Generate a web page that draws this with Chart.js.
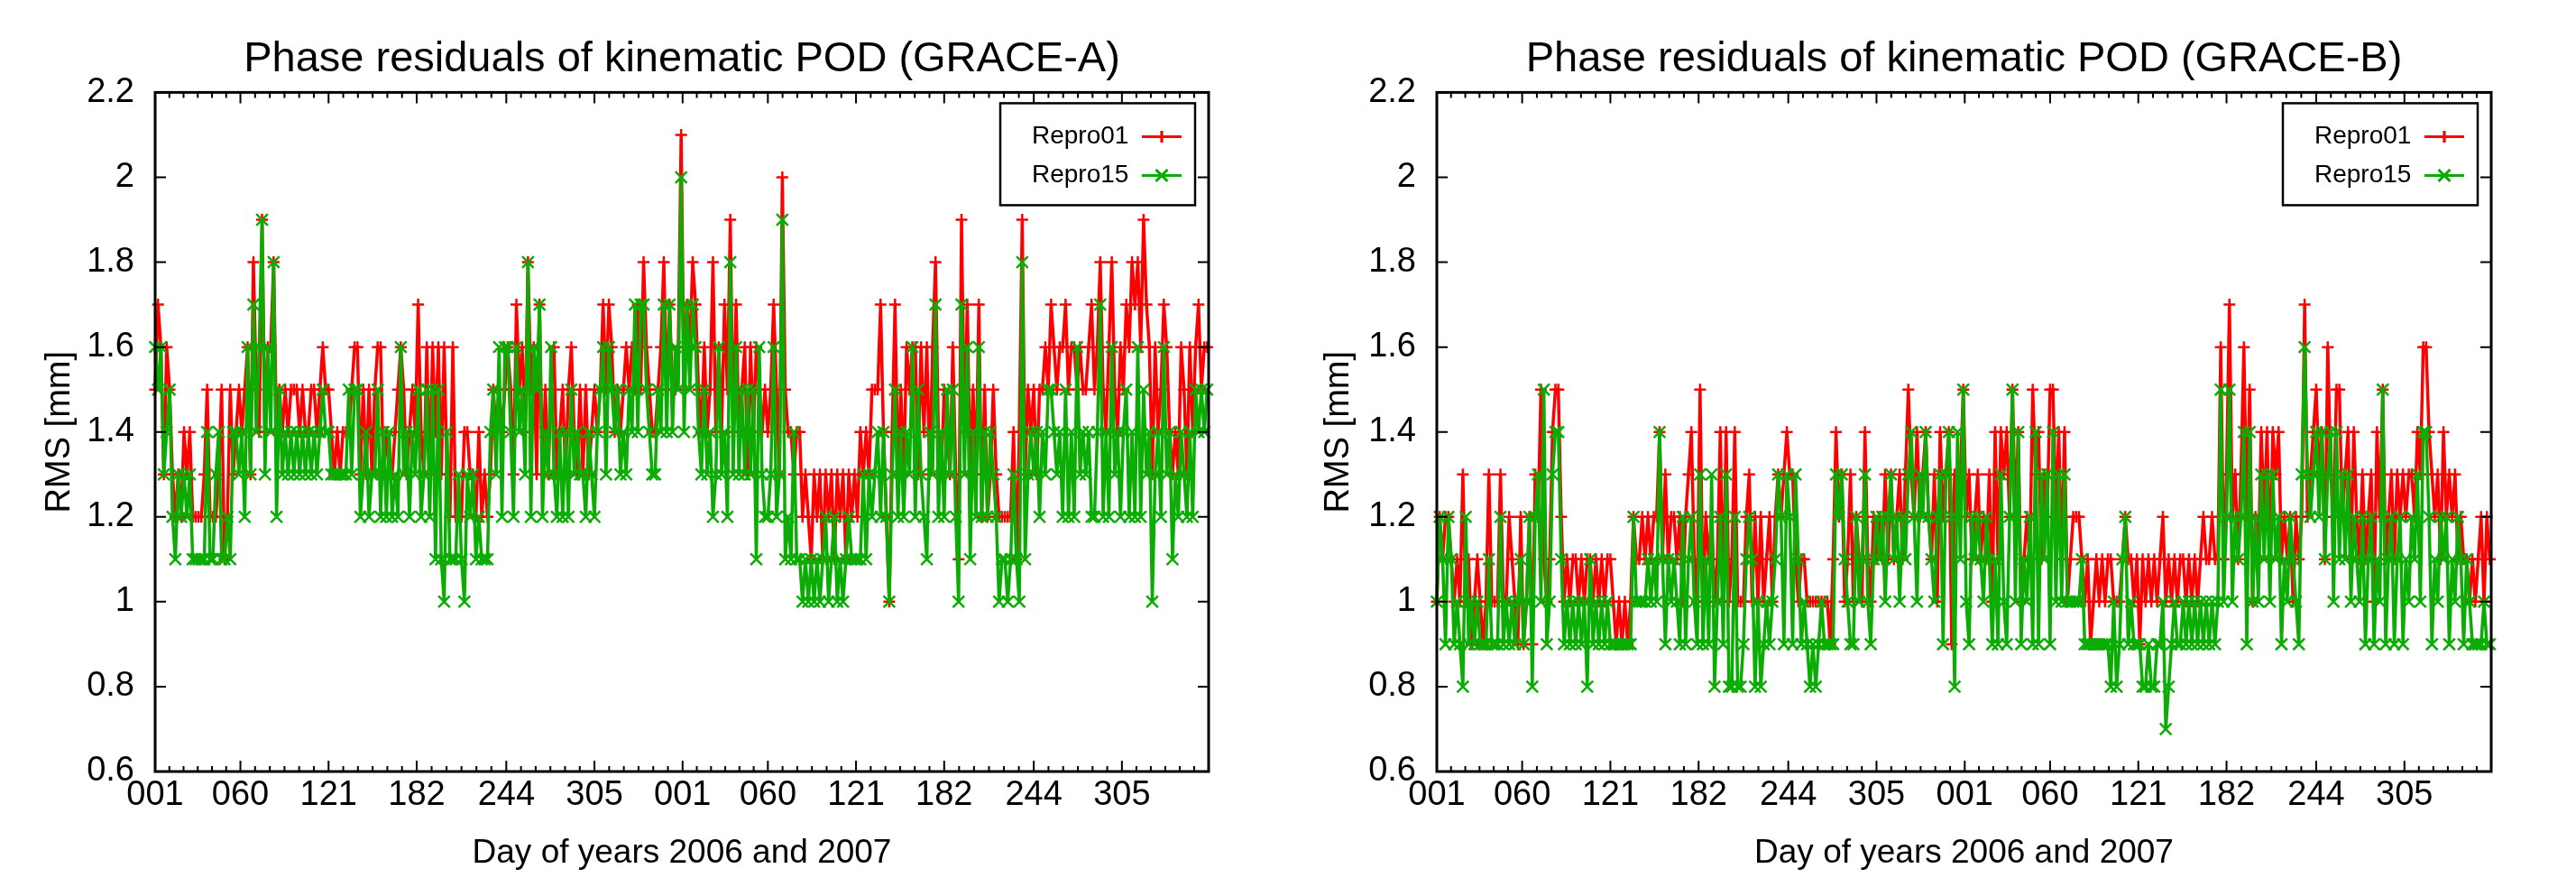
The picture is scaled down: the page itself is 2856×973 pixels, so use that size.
<!DOCTYPE html>
<html>
<head>
<meta charset="utf-8">
<title>Phase residuals of kinematic POD</title>
<script src="https://cdn.jsdelivr.net/npm/chart.js@4"></script>
<style>
  body { margin: 0; background: #fff; }
  canvas { position: absolute; top: 0; }
  #panelA { left: 0; }
  #panelB { left: 1428px; }
</style>
</head>
<body>
<canvas id="panelA" width="1428" height="973"></canvas>
<canvas id="panelB" width="1428" height="973"></canvas>
<script>
// values, one sample every second day (days 1, 3, 5 ... 729)
const firstDay = 1;
const dayStep = 2;
const lastDay = 730;

const dayTicks = [1, 60, 121, 182, 244, 305, 366, 425, 486, 547, 609, 670];
const dayLabels = ['001', '060', '121', '182', '244', '305', '001', '060', '121', '182', '244', '305'];
const seriesNames = ['Repro01', 'Repro15'];

const repro01A = [
  1.5,1.7,1.6,1.3,1.6,1.5,1.3,1.2,1.3,1.2,
  1.4,1.3,1.4,1.2,1.2,1.2,1.2,1.3,1.5,1.2,
  1.2,1.2,1.3,1.5,1.1,1.2,1.5,1.3,1.4,1.5,
  1.4,1.5,1.6,1.3,1.8,1.5,1.4,1.9,1.4,1.6,
  1.6,1.8,1.4,1.5,1.4,1.5,1.4,1.5,1.5,1.5,
  1.4,1.5,1.4,1.4,1.5,1.5,1.4,1.5,1.6,1.5,
  1.5,1.4,1.3,1.4,1.3,1.4,1.4,1.4,1.5,1.6,
  1.6,1.3,1.5,1.3,1.5,1.3,1.5,1.6,1.6,1.3,
  1.4,1.3,1.3,1.4,1.5,1.6,1.5,1.3,1.4,1.5,
  1.4,1.7,1.4,1.3,1.6,1.3,1.6,1.4,1.6,1.3,
  1.6,1.3,1.2,1.6,1.2,1.2,1.2,1.4,1.4,1.3,
  1.3,1.2,1.4,1.2,1.3,1.2,1.3,1.5,1.4,1.5,
  1.4,1.5,1.6,1.5,1.3,1.7,1.5,1.6,1.4,1.8,
  1.5,1.6,1.3,1.7,1.3,1.5,1.3,1.5,1.6,1.3,
  1.4,1.5,1.3,1.5,1.6,1.4,1.3,1.5,1.3,1.5,
  1.3,1.4,1.5,1.4,1.5,1.7,1.5,1.7,1.6,1.4,
  1.5,1.4,1.5,1.6,1.5,1.6,1.5,1.7,1.5,1.8,
  1.6,1.5,1.4,1.4,1.5,1.6,1.8,1.5,1.7,1.5,
  1.5,1.6,2.1,1.5,1.7,1.6,1.8,1.7,1.5,1.4,
  1.6,1.4,1.5,1.8,1.4,1.6,1.4,1.7,1.5,1.9,
  1.4,1.7,1.4,1.5,1.6,1.3,1.6,1.4,1.6,1.5,
  1.4,1.5,1.4,1.5,1.7,1.5,1.3,2.0,1.5,1.4,
  1.4,1.3,1.4,1.4,1.2,1.3,1.2,1.1,1.3,1.2,
  1.3,1.1,1.3,1.2,1.3,1.1,1.3,1.2,1.3,1.1,
  1.3,1.2,1.3,1.2,1.4,1.3,1.4,1.3,1.5,1.5,
  1.5,1.7,1.4,1.2,1.0,1.4,1.7,1.3,1.5,1.3,
  1.6,1.5,1.6,1.6,1.3,1.6,1.4,1.6,1.3,1.6,
  1.8,1.4,1.3,1.5,1.4,1.3,1.6,1.3,1.1,1.9,
  1.4,1.7,1.3,1.5,1.3,1.7,1.2,1.5,1.2,1.3,
  1.5,1.3,1.2,1.2,1.2,1.2,1.2,1.4,1.1,1.4,
  1.9,1.3,1.5,1.4,1.5,1.3,1.5,1.5,1.6,1.5,
  1.7,1.6,1.5,1.6,1.6,1.7,1.5,1.6,1.6,1.5,
  1.6,1.5,1.5,1.6,1.7,1.5,1.6,1.8,1.5,1.4,
  1.6,1.8,1.5,1.4,1.6,1.5,1.7,1.6,1.8,1.7,
  1.8,1.6,1.9,1.7,1.6,1.3,1.6,1.4,1.5,1.7,
  1.6,1.4,1.3,1.4,1.3,1.6,1.5,1.3,1.6,1.4,
  1.6,1.7,1.5,1.6,1.6
];

const repro15A = [
  1.6,1.5,1.6,1.3,1.4,1.5,1.2,1.1,1.3,1.2,
  1.3,1.2,1.3,1.1,1.1,1.1,1.1,1.1,1.4,1.1,
  1.1,1.3,1.4,1.1,1.1,1.2,1.1,1.4,1.4,1.3,
  1.4,1.2,1.6,1.3,1.7,1.4,1.6,1.9,1.3,1.6,
  1.4,1.8,1.2,1.5,1.3,1.4,1.3,1.4,1.3,1.4,
  1.3,1.4,1.3,1.4,1.3,1.4,1.3,1.4,1.5,1.4,
  1.4,1.3,1.3,1.3,1.3,1.3,1.3,1.5,1.3,1.5,
  1.5,1.2,1.3,1.4,1.2,1.3,1.3,1.5,1.2,1.4,
  1.2,1.4,1.2,1.3,1.2,1.6,1.3,1.4,1.2,1.4,
  1.3,1.5,1.2,1.3,1.5,1.2,1.5,1.1,1.5,1.1,
  1.0,1.4,1.1,1.1,1.1,1.3,1.1,1.0,1.3,1.2,
  1.3,1.1,1.2,1.1,1.1,1.1,1.4,1.5,1.3,1.6,
  1.2,1.6,1.6,1.4,1.2,1.6,1.4,1.5,1.3,1.8,
  1.2,1.6,1.5,1.7,1.2,1.4,1.3,1.6,1.3,1.2,
  1.4,1.2,1.4,1.2,1.5,1.3,1.4,1.3,1.3,1.2,
  1.4,1.3,1.2,1.4,1.5,1.6,1.3,1.6,1.5,1.4,
  1.5,1.3,1.4,1.3,1.5,1.4,1.7,1.4,1.7,1.7,
  1.5,1.4,1.3,1.3,1.5,1.4,1.7,1.4,1.7,1.4,
  1.6,1.5,2.0,1.4,1.7,1.5,1.7,1.6,1.4,1.3,
  1.5,1.3,1.4,1.2,1.3,1.6,1.3,1.4,1.2,1.8,
  1.3,1.6,1.3,1.5,1.3,1.5,1.3,1.5,1.1,1.6,
  1.3,1.2,1.2,1.3,1.6,1.2,1.3,1.9,1.1,1.2,
  1.1,1.4,1.1,1.1,1.0,1.1,1.0,1.1,1.0,1.1,
  1.0,1.1,1.2,1.0,1.1,1.2,1.0,1.1,1.0,1.1,
  1.2,1.1,1.1,1.1,1.1,1.3,1.1,1.3,1.2,1.3,
  1.4,1.2,1.4,1.2,1.0,1.3,1.5,1.2,1.4,1.2,
  1.4,1.3,1.6,1.2,1.5,1.3,1.2,1.1,1.4,1.3,
  1.7,1.2,1.4,1.2,1.5,1.3,1.5,1.2,1.0,1.7,
  1.3,1.6,1.1,1.4,1.2,1.6,1.2,1.4,1.2,1.4,
  1.3,1.2,1.0,1.1,1.1,1.0,1.1,1.3,1.1,1.0,
  1.8,1.1,1.3,1.4,1.3,1.4,1.2,1.4,1.3,1.5,
  1.5,1.4,1.3,1.4,1.2,1.5,1.2,1.4,1.2,1.6,
  1.3,1.4,1.3,1.4,1.2,1.2,1.4,1.7,1.2,1.4,
  1.2,1.6,1.3,1.4,1.2,1.4,1.5,1.2,1.4,1.2,
  1.6,1.2,1.5,1.3,1.4,1.0,1.3,1.4,1.2,1.6,
  1.3,1.4,1.1,1.3,1.2,1.4,1.3,1.2,1.4,1.2,
  1.5,1.4,1.5,1.4,1.5
];

const repro01B = [
  1.0,1.2,1.1,1.2,1.2,1.1,1.0,1.1,1.0,1.3,
  1.0,1.1,0.9,1.0,1.1,1.0,0.9,1.0,1.3,1.0,
  1.0,1.0,1.3,1.0,1.0,1.2,1.1,1.0,0.9,1.2,
  0.9,1.0,1.2,0.9,1.3,1.2,1.5,1.1,1.0,1.1,
  1.4,1.5,1.5,1.2,1.0,1.1,1.0,1.1,1.1,1.0,
  1.1,1.0,1.1,1.1,1.0,1.1,1.0,1.1,1.0,1.1,
  1.1,1.0,0.9,1.0,0.9,1.0,0.9,1.0,1.2,1.1,
  1.1,1.2,1.1,1.2,1.1,1.2,1.2,1.4,1.1,1.3,
  1.1,1.2,1.2,1.1,1.2,1.0,1.2,1.3,1.4,1.1,
  1.0,1.5,1.0,1.2,1.1,1.2,1.0,1.1,1.4,1.0,
  1.4,1.0,1.1,1.4,1.0,1.0,1.0,1.2,1.3,1.0,
  1.2,1.0,1.2,1.0,1.1,1.2,1.0,1.2,1.3,1.2,
  1.3,1.4,1.3,1.3,1.1,1.0,1.1,1.1,1.0,1.0,
  1.0,1.0,1.0,1.0,1.0,1.0,0.9,1.1,1.4,1.2,
  1.3,1.0,1.1,1.3,1.0,1.2,1.1,1.0,1.4,1.1,
  1.0,1.2,1.1,1.2,1.1,1.3,1.1,1.3,1.1,1.2,
  1.3,1.1,1.3,1.5,1.3,1.2,1.4,1.2,1.3,1.4,
  1.2,1.1,1.3,1.0,1.4,1.2,1.3,1.4,0.9,1.3,
  1.2,1.3,1.5,1.2,1.3,1.1,1.2,1.3,1.1,1.2,
  1.1,1.3,1.0,1.4,1.1,1.4,1.3,1.4,1.2,1.5,
  1.2,1.4,1.0,1.1,1.2,1.1,1.5,1.3,1.4,1.1,
  1.3,1.2,1.5,1.5,1.2,1.4,1.1,1.4,1.0,1.1,
  1.2,1.2,1.2,1.1,1.0,1.1,0.9,1.0,1.1,1.0,
  1.1,1.0,1.1,1.1,1.0,1.0,1.0,1.1,1.2,1.1,
  1.1,1.0,1.1,0.9,1.1,1.0,1.1,1.0,1.1,1.0,
  1.1,1.2,1.0,1.1,1.0,1.1,1.0,1.1,1.1,1.0,
  1.1,1.0,1.1,1.0,1.1,1.2,1.1,1.1,1.2,1.1,
  1.1,1.6,1.1,1.3,1.7,1.2,1.3,1.1,1.3,1.6,
  1.2,1.5,1.0,1.2,1.1,1.4,1.2,1.4,1.1,1.4,
  1.3,1.4,1.1,1.2,1.1,1.2,1.0,1.2,1.1,1.2,
  1.7,1.2,1.3,1.4,1.5,1.3,1.4,1.1,1.6,1.3,
  1.2,1.5,1.5,1.2,1.3,1.4,1.1,1.4,1.2,1.1,
  1.3,1.1,1.2,1.3,1.0,1.4,1.2,1.5,1.1,1.2,
  1.3,1.1,1.3,1.2,1.3,1.2,1.3,1.3,1.2,1.4,
  1.3,1.6,1.6,1.4,1.3,1.2,1.3,1.1,1.4,1.2,
  1.3,1.2,1.3,1.1,1.2,1.1,1.1,1.0,1.1,1.0,
  1.1,1.2,1.0,1.2,1.1
];

const repro15B = [
  1.0,1.2,1.1,0.9,1.2,1.1,0.9,1.0,0.9,0.8,
  1.2,0.9,1.0,0.9,1.0,0.9,0.9,0.9,1.1,0.9,
  0.9,0.9,1.2,0.9,1.0,0.9,1.0,0.9,1.0,1.1,
  0.9,1.0,1.2,0.8,1.2,1.3,1.0,1.5,0.9,1.0,
  1.3,1.4,1.4,1.1,0.9,1.0,0.9,1.0,0.9,1.0,
  0.9,1.0,0.8,1.1,0.9,1.0,0.9,1.0,0.9,1.0,
  0.9,0.9,0.9,0.9,0.9,0.9,0.9,0.9,1.2,1.0,
  1.0,1.0,1.0,1.1,1.0,1.1,1.0,1.4,1.1,0.9,
  1.1,1.0,1.1,1.0,0.9,1.2,0.9,1.1,1.2,1.0,
  0.9,1.3,0.9,1.1,0.9,1.3,0.8,1.0,1.2,0.9,
  1.3,0.8,0.8,1.2,0.8,0.8,0.9,1.1,1.2,1.1,
  0.8,1.0,0.8,0.9,1.0,0.9,1.0,1.1,1.3,1.2,
  0.9,1.3,1.2,0.9,1.3,1.1,0.9,1.0,0.9,0.8,
  0.9,0.8,0.9,1.0,0.9,0.9,0.9,0.9,1.3,1.2,
  1.3,1.1,1.0,0.9,0.9,1.2,1.0,1.1,1.3,1.0,
  0.9,1.1,1.2,1.1,1.2,1.0,1.2,1.3,1.1,1.2,
  1.0,1.2,1.1,1.3,1.4,1.2,1.0,1.3,1.2,1.4,
  1.2,1.1,1.0,1.2,1.3,0.9,1.3,1.4,1.2,0.8,
  1.4,1.1,1.5,1.0,0.9,1.2,1.1,1.2,1.1,1.0,
  1.2,1.1,0.9,1.1,0.9,1.3,1.0,0.9,1.2,1.5,
  1.0,1.4,0.9,1.1,1.0,1.2,0.9,1.4,0.9,1.3,
  1.1,1.3,0.9,1.4,1.0,1.3,1.0,1.3,1.0,1.0,
  1.0,1.0,1.0,1.1,0.9,0.9,0.9,0.9,0.9,0.9,
  0.9,0.9,0.9,0.8,1.0,0.8,0.9,1.1,1.2,0.9,
  1.0,0.9,0.9,0.9,0.8,0.8,0.9,0.8,0.8,0.9,
  0.9,1.0,0.7,0.8,0.9,1.0,0.9,0.9,1.0,0.9,
  1.0,0.9,1.0,0.9,1.0,0.9,1.0,0.9,1.0,0.9,
  1.0,1.5,1.0,1.2,1.5,1.0,1.2,1.1,1.2,1.4,
  0.9,1.4,1.0,1.2,1.0,1.3,1.1,1.3,1.0,1.3,
  1.1,1.2,0.9,1.1,1.0,1.2,1.1,1.0,0.9,1.3,
  1.6,1.3,1.2,1.3,1.4,1.2,1.4,1.1,1.3,1.4,
  1.0,1.4,1.1,1.3,1.1,1.3,1.0,1.2,1.1,1.0,
  1.2,0.9,1.1,1.2,0.9,1.1,1.0,1.5,0.9,1.1,
  1.2,0.9,1.1,1.2,0.9,1.1,1.0,1.2,1.1,1.3,
  1.0,1.4,1.4,1.2,0.9,1.1,1.0,1.2,1.1,1.2,
  0.9,1.1,1.0,1.2,1.1,0.9,1.1,1.0,0.9,0.9,
  0.9,0.9,1.0,0.9,0.9
];

const fontName = '"Liberation Sans", Arial, sans-serif';
const red = '#ff0000';
const green = '#0bad05';

function toPoints(values) {
  return values.map((v, i) => ({ x: firstDay + i * dayStep, y: v }));
}

// gnuplot style frame: ticks point inwards, on all four sides
const framePlugin = {
  id: 'frame',
  afterDatasetsDraw(chart) {
    const { ctx, chartArea: a, scales } = chart;
    ctx.save();
    ctx.strokeStyle = '#000';
    ctx.lineWidth = 2;
    ctx.beginPath();
    scales.y.ticks.forEach(t => {
      const y = scales.y.getPixelForValue(t.value);
      ctx.moveTo(a.left, y); ctx.lineTo(a.left + 12, y);
      ctx.moveTo(a.right, y); ctx.lineTo(a.right - 12, y);
    });
    dayTicks.forEach((d, i) => {
      const x = scales.x.getPixelForValue(d);
      ctx.moveTo(x, a.bottom); ctx.lineTo(x, a.bottom - 12);
      ctx.moveTo(x, a.top); ctx.lineTo(x, a.top + 12);
      // six minor intervals between the labelled days
      const next = i < dayTicks.length - 1 ? dayTicks[i + 1] : d + 60;
      for (let k = 1; k < 6; k++) {
        const day = d + (next - d) * k / 6;
        if (day > lastDay) break;
        const mx = scales.x.getPixelForValue(day);
        ctx.moveTo(mx, a.bottom); ctx.lineTo(mx, a.bottom - 6);
        ctx.moveTo(mx, a.top); ctx.lineTo(mx, a.top + 6);
      }
    });
    ctx.stroke();
    ctx.lineWidth = 3;
    ctx.strokeRect(a.left, a.top, a.right - a.left, a.bottom - a.top);
    ctx.restore();
  }
};

// legend box with the text left and the line sample right, top right corner of the plot
const keyPlugin = {
  id: 'key',
  afterDraw(chart) {
    const { ctx, chartArea: a } = chart;
    const boxW = 216, boxH = 113;
    const boxX = a.right - 15 - boxW, boxY = a.top + 12;
    ctx.save();
    ctx.fillStyle = '#fff';
    ctx.fillRect(boxX, boxY, boxW, boxH);
    ctx.strokeStyle = '#000';
    ctx.lineWidth = 2.5;
    ctx.strokeRect(boxX, boxY, boxW, boxH);
    ctx.font = '28px ' + fontName;
    ctx.textBaseline = 'middle';
    chart.data.datasets.forEach((ds, i) => {
      const rowY = boxY + 37 + i * 43;
      ctx.fillStyle = '#000';
      ctx.fillText(ds.label, boxX + 35, rowY);
      ctx.strokeStyle = ds.borderColor;
      ctx.lineWidth = 3;
      ctx.beginPath();
      ctx.moveTo(boxX + 157, rowY); ctx.lineTo(boxX + 201, rowY);
      ctx.stroke();
      Chart.helpers.drawPoint(ctx, {
        pointStyle: ds.pointStyle, radius: ds.pointRadius, borderWidth: 2.5
      }, boxX + 179, rowY);
      ctx.lineWidth = 2.5;
      ctx.stroke();
    });
    ctx.restore();
  }
};

function makePanel(canvasId, titleText, red01, green15, plotLeft, plotRight, yTitlePad) {
  return new Chart(document.getElementById(canvasId), {
    type: 'line',
    data: {
      datasets: [
        {
          label: seriesNames[0], data: toPoints(red01), order: 2, clip: false,
          borderColor: red, backgroundColor: red, borderWidth: 3.5, tension: 0,
          pointStyle: 'cross', pointRadius: 6.5, pointBorderColor: red, pointBorderWidth: 2.5
        },
        {
          label: seriesNames[1], data: toPoints(green15), order: 1, clip: false,
          borderColor: green, backgroundColor: green, borderWidth: 3.5, tension: 0,
          pointStyle: 'crossRot', pointRadius: 9, pointBorderColor: green, pointBorderWidth: 2.5
        }
      ]
    },
    options: {
      responsive: false,
      animation: false,
      devicePixelRatio: 1,
      layout: { padding: { left: 0, right: 1428 - plotRight, top: 0, bottom: 0 } },
      plugins: {
        legend: { display: false },
        tooltip: { enabled: false },
        title: {
          display: true,
          fullSize: false,
          text: titleText,
          color: '#000',
          font: { family: fontName, size: 47, weight: 'normal' },
          padding: { top: 38, bottom: 8 }
        }
      },
      scales: {
        x: {
          type: 'linear',
          min: firstDay,
          max: lastDay,
          grid: { display: false },
          border: { display: false },
          afterBuildTicks: s => { s.ticks = dayTicks.map(v => ({ value: v })); },
          afterFit: s => { s.height = 973 - 855; },
          ticks: {
            autoSkip: false, maxRotation: 0, padding: -4, color: '#000',
            font: { family: fontName, size: 38 },
            callback: v => dayLabels[dayTicks.indexOf(v)]
          },
          title: {
            display: true, text: 'Day of years 2006 and 2007', color: '#000',
            font: { family: fontName, size: 37 }, padding: { top: 0, bottom: 5 }
          }
        },
        y: {
          min: 0.6,
          max: 2.2,
          grid: { display: false },
          border: { display: false },
          afterFit: s => { s.width = plotLeft; },
          ticks: {
            stepSize: 0.2, padding: 15, color: '#000',
            font: { family: fontName, size: 38 },
            callback: v => String(Number(v.toFixed(1)))
          },
          title: {
            display: true, text: 'RMS [mm]', color: '#000',
            font: { family: fontName, size: 38 }, padding: { top: yTitlePad, bottom: 0 }
          }
        }
      }
    },
    plugins: [framePlugin, keyPlugin]
  });
}

makePanel('panelA', 'Phase residuals of kinematic POD (GRACE-A)', repro01A, repro15A, 172, 1340, 44);
makePanel('panelB', 'Phase residuals of kinematic POD (GRACE-B)', repro01B, repro15B, 165, 1334, 34);
</script>
</body>
</html>
